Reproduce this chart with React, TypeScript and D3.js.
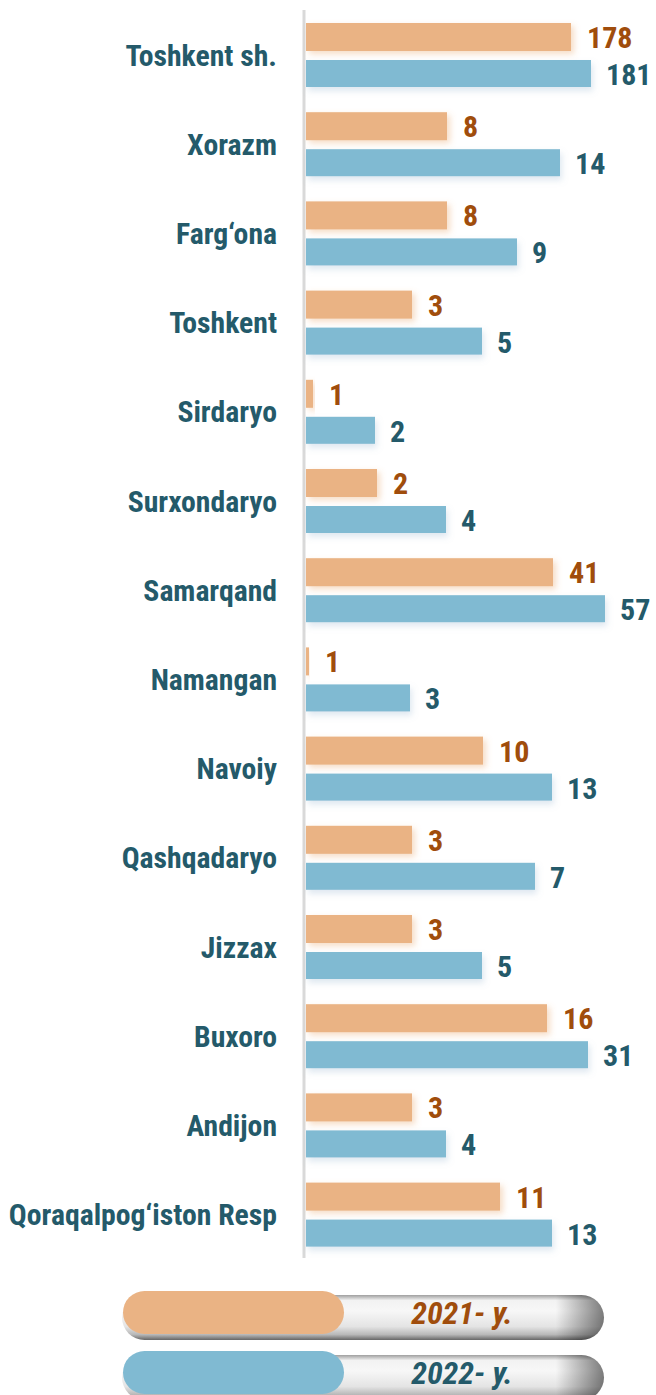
import React from "react";
import * as d3 from "d3";

const categories = [
  "Toshkent sh.", "Xorazm", "Farg\u2018ona", "Toshkent", "Sirdaryo", "Surxondaryo",
  "Samarqand", "Namangan", "Navoiy", "Qashqadaryo", "Jizzax", "Buxoro", "Andijon",
  "Qoraqalpog\u2018iston Resp",
];
const values2021 = [178, 8, 8, 3, 1, 2, 41, 1, 10, 3, 3, 16, 3, 11];
const values2022 = [181, 14, 9, 5, 2, 4, 57, 3, 13, 7, 5, 31, 4, 13];
// drawn magnitude of each bar as shown in the infographic (not proportional to the value)
const drawn2021 = [265, 141, 141, 106, 7, 71, 247, 3, 177, 106, 106, 241, 106, 194];
const drawn2022 = [285, 254, 211, 176, 69, 140, 299, 104, 246, 229, 176, 282, 140, 246];
const seriesNames = ["2021- y.", "2022- y."];

const W = 656, H = 1395;
const ORANGE = "#eab384", BLUE = "#80bad2";
const ORANGE_TXT = "#a04d0c", BLUE_TXT = "#245a6a";
const FONT = "'Roboto Condensed', Roboto, 'Noto Sans', sans-serif";

export default function App() {
  const x0 = 306;
  const x = d3.scaleLinear().domain([0, 300]).range([x0, x0 + 300]);
  const y = d3.scaleBand<string>().domain(categories).range([10, 10 + 89.2 * 14]).paddingInner(0).paddingOuter(0);
  const barH = 28, gap = 9;
  const off = 13;

  return (
    <svg width={W} height={H} style={{ display: "block", position: "absolute", left: 0, top: 0 }}>
      <defs>
        <filter id="shO" x="-10%" y="-40%" width="130%" height="200%">
          <feDropShadow dx="3" dy="3" stdDeviation="3" floodColor="#e59a5c" floodOpacity="0.35" />
        </filter>
        <filter id="shB" x="-10%" y="-40%" width="130%" height="200%">
          <feDropShadow dx="2" dy="4" stdDeviation="3" floodColor="#7aa3c4" floodOpacity="0.25" />
        </filter>
        <linearGradient id="tube" x1="0" y1="0" x2="0" y2="1">
          <stop offset="0" stopColor="#9f9f9f" />
          <stop offset="0.12" stopColor="#f2f2f2" />
          <stop offset="0.35" stopColor="#f7f7f7" />
          <stop offset="0.7" stopColor="#e4e4e4" />
          <stop offset="0.88" stopColor="#b8b8b8" />
          <stop offset="1" stopColor="#666" />
        </linearGradient>
        <linearGradient id="tubeEnd" x1="0" y1="0" x2="1" y2="0">
          <stop offset="0.9" stopColor="#000" stopOpacity="0" />
          <stop offset="1" stopColor="#000" stopOpacity="0.5" />
        </linearGradient>
      </defs>

      <line x1={304} x2={304} y1={10} y2={1258} stroke="#d9d9d9" strokeWidth={3} />

      {categories.map((c, i) => {
        const top = (y(c) as number) + off;
        const cy = top + barH + gap / 2;
        return (
          <g key={c}>
            <rect x={x(0)} y={top} width={x(drawn2021[i]) - x(0)} height={barH} fill={ORANGE} filter="url(#shO)" />
            <rect x={x(0)} y={top + barH + gap} width={x(drawn2022[i]) - x(0)} height={barH - 1} fill={BLUE} filter="url(#shB)" />
            <text x={277} y={cy + 10} textAnchor="end" fontFamily={FONT} fontWeight={700} fontSize={29.7} fill={BLUE_TXT}>{c}</text>
            <text x={x(drawn2021[i]) + 16} y={top + barH / 2 + 11} fontFamily={FONT} fontWeight={700} fontSize={30} fill={ORANGE_TXT}>{values2021[i]}</text>
            <text x={x(drawn2022[i]) + 15} y={top + barH + gap + barH / 2 + 11} fontFamily={FONT} fontWeight={700} fontSize={30} fill={BLUE_TXT}>{values2022[i]}</text>
          </g>
        );
      })}

      {seriesNames.map((s, k) => {
        const ty = k === 0 ? 1295 : 1355;
        const color = k === 0 ? ORANGE : BLUE;
        return (
          <g key={s}>
            <rect x={122} y={ty} width={482} height={45} rx={22.5} fill="url(#tube)" />
            <rect x={122} y={ty} width={482} height={45} rx={22.5} fill="url(#tubeEnd)" />
            <rect x={123} y={ty - 4} width={221} height={43} rx={21.5} fill={color} />
            <text x={462} y={ty + 29} textAnchor="middle" fontFamily={FONT} fontWeight={700} fontStyle="italic" fontSize={32} fill={k === 0 ? ORANGE_TXT : BLUE_TXT}>{s}</text>
          </g>
        );
      })}
    </svg>
  );
}
